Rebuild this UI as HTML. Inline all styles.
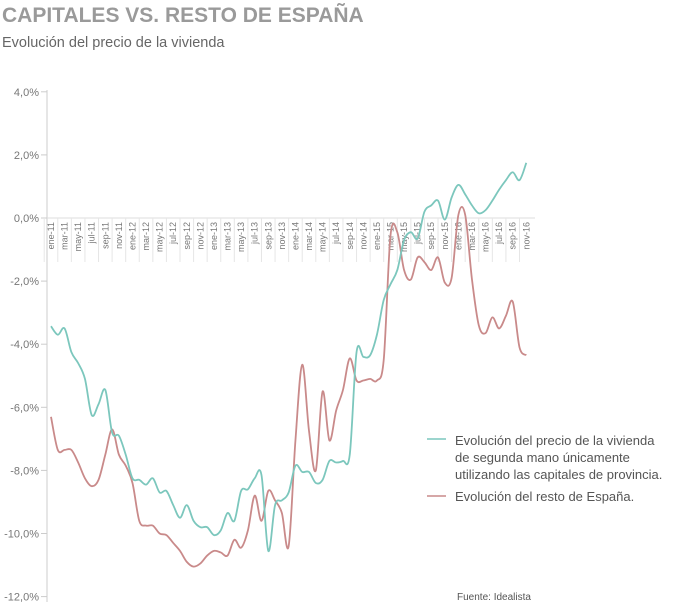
<!DOCTYPE html>
<html><head><meta charset="utf-8">
<style>
html,body{margin:0;padding:0;background:#fff;width:696px;height:605px;overflow:hidden}
svg{display:block;font-family:"Liberation Sans",sans-serif}
</style></head>
<body>
<svg id="chart" width="696" height="605" viewBox="0 0 696 605">
<text x="2" y="22" font-size="21" font-weight="bold" fill="#9a9a9a">CAPITALES VS. RESTO DE ESPAÑA</text>
<text x="2" y="47" font-size="14.5" fill="#666">Evolución del precio de la vivienda</text>
<g id="yaxis"></g>
<g id="xaxis"></g>
<g id="series"></g>
<g>
<g>
<line x1="427" y1="439" x2="446" y2="439" stroke="#7cc7bd" stroke-width="1.5"/>
<text x="455" y="445" font-size="13" fill="#555">Evolución del precio de la vivienda</text>
<text x="455" y="462" font-size="13" fill="#555">de segunda mano únicamente</text>
<text x="455" y="479" font-size="13" fill="#555">utilizando las capitales de provincia.</text>
</g>
<g>
<line x1="427" y1="496" x2="446" y2="496" stroke="#c98a8a" stroke-width="1.5"/>
<text x="455" y="501" font-size="13" fill="#555">Evolución del resto de España.</text>
</g>
</g>
<text x="457" y="600" font-size="10" fill="#555">Fuente: Idealista</text>
</svg>
<script>
const months = ["ene","feb","mar","abr","may","jun","jul","ago","sep","oct","nov","dic"];
const yTicks = [4,2,0,-2,-4,-6,-8,-10,-12];
const capitales = [-3.43,-3.7,-3.5,-4.25,-4.6,-5.1,-6.25,-5.9,-5.45,-6.8,-6.9,-7.5,-8.25,-8.3,-8.45,-8.25,-8.7,-8.65,-9.1,-9.5,-9.1,-9.6,-9.8,-9.8,-10.05,-9.9,-9.35,-9.6,-8.65,-8.6,-8.25,-8.15,-10.55,-9.1,-8.95,-8.7,-7.85,-8.05,-8.05,-8.4,-8.3,-7.7,-7.75,-7.7,-7.5,-4.25,-4.4,-4.35,-3.7,-2.6,-2.1,-1.65,-0.7,-0.45,-0.65,0.2,0.4,0.55,-0.05,0.65,1.05,0.75,0.4,0.15,0.25,0.55,0.9,1.2,1.45,1.2,1.75];
const resto = [-6.3,-7.35,-7.35,-7.35,-7.75,-8.25,-8.5,-8.3,-7.5,-6.7,-7.5,-7.85,-8.4,-9.6,-9.75,-9.75,-10,-10.05,-10.3,-10.55,-10.9,-11.05,-10.95,-10.7,-10.55,-10.6,-10.7,-10.2,-10.45,-9.9,-8.8,-9.6,-8.65,-8.95,-9.35,-10.4,-7.05,-4.65,-6.75,-8.0,-5.5,-7.05,-6.1,-5.45,-4.45,-5.15,-5.15,-5.1,-5.15,-4.5,-0.55,-0.45,-1.65,-1.95,-1.25,-1.4,-1.65,-1.25,-2.05,-1.9,0.1,0.1,-1.95,-3.4,-3.65,-3.15,-3.5,-3.1,-2.65,-4.1,-4.35];

const NS="http://www.w3.org/2000/svg";
const y = v => 218 - v*31.55;
const x = i => 51 + i*6.79;
function mk(tag, attrs, parent){const e=document.createElementNS(NS,tag);for(const k in attrs)e.setAttribute(k,attrs[k]);parent.appendChild(e);return e;}

const ya=document.getElementById('yaxis');
const axisLine=mk('line',{x1:47,y1:90,x2:47,y2:602,stroke:'#ddd','stroke-width':1.5},ya);


yTicks.forEach(t=>{
  const tk=mk('line',{x1:41,y1:y(t),x2:47,y2:y(t),stroke:'#ccc'},ya);
  
  
  const tx=mk('text',{x:39,y:y(t)+4,'font-size':11,fill:'#777','text-anchor':'end'},ya);
  
  
  tx.textContent=t.toFixed(1).replace('.',',')+'%';
});

const xa=document.getElementById('xaxis');
const zl=mk('line',{x1:47,y1:218,x2:535,y2:218,stroke:'#ddd'},xa);


for(let i=0;i<capitales.length;i+=2){
  const lbl=months[i%12]+'-'+(11+Math.floor(i/12));
  const sx=x(i)-6.8;
  const sep=mk('line',{x1:sx,y1:218,x2:sx,y2:262,stroke:'#e6e6e6'},xa);
  
  
  const t=mk('text',{transform:`translate(${x(i)+3},222) rotate(-90)`,'font-size':9,fill:'#777','text-anchor':'end'},xa);
  
  
  t.textContent=lbl;
}

function pathFor(vals){
  const p=vals.map((v,i)=>[x(i),y(v)]);
  let d=`M${p[0][0]},${p[0][1]}`;
  for(let i=0;i<p.length-1;i++){
    const p0=p[i-1]||p[i],p1=p[i],p2=p[i+1],p3=p[i+2]||p2;
    const c1=[p1[0]+(p2[0]-p0[0])/6,p1[1]+(p2[1]-p0[1])/6];
    const c2=[p2[0]-(p3[0]-p1[0])/6,p2[1]-(p3[1]-p1[1])/6];
    d+=` C${c1[0]},${c1[1]} ${c2[0]},${c2[1]} ${p2[0]},${p2[1]}`;
  }
  return d;
}
const sg=document.getElementById('series');
const lr=mk('path',{d:pathFor(resto),fill:'none',stroke:'#c98a8a','stroke-width':1.8},sg);


const lc=mk('path',{d:pathFor(capitales),fill:'none',stroke:'#7cc7bd','stroke-width':1.8},sg);


</script>
</body></html>
